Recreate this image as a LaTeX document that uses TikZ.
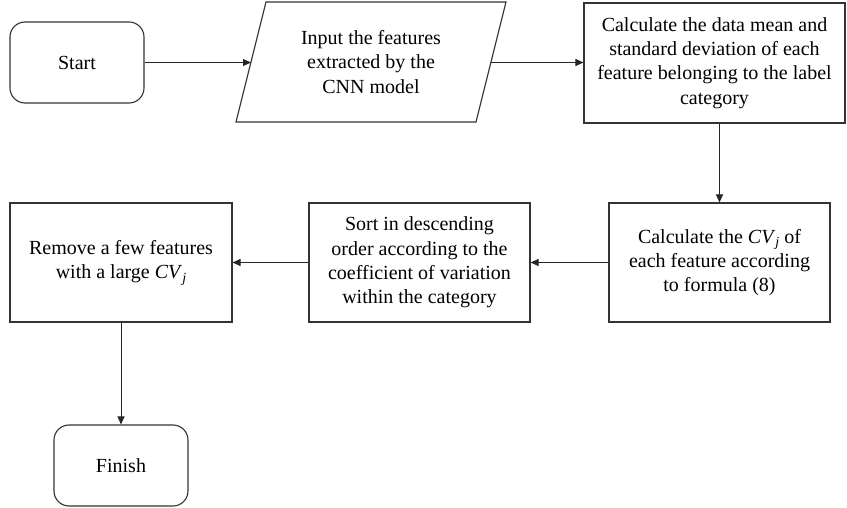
\documentclass[tikz,border=0pt]{standalone}
\usepackage{fontspec}
\setmainfont{Liberation Serif}
\usetikzlibrary{arrows.meta}
\newcommand{\cvj}{\textit{CV}\raisebox{-0.4ex}{\fontsize{14}{14}\selectfont\textit{j}}}
\tikzset{
  base/.style={draw=black!80, line width=1.1pt, align=center, font=\fontsize{20}{24.3}\selectfont, inner sep=0pt},
  boxnode/.style={base, rectangle},
  termnode/.style={base, rectangle, rounded corners=15pt},
  txt/.style={align=center, font=\fontsize{20}{24.3}\selectfont, inner sep=0pt},
  arr/.style={draw=black!85, line width=1pt, -{Triangle[length=8pt,width=7pt]}}
}
\begin{document}
\begin{tikzpicture}[x=1pt,y=-1pt]
\useasboundingbox (0,0) rectangle (847,508);
% Start
\node[termnode, minimum width=134pt, minimum height=81pt] (start) at (77,62.5) {Start};
% parallelogram
\draw[draw=black!80, line width=1.1pt] (266,2) -- (506,2) -- (476,122) -- (236,122) -- cycle;
\node[txt] (input) at (371,62) {Input the features\\extracted by the\\CNN model};
\coordinate (inL) at (251,62.5);
\coordinate (inR) at (491,62.5);
% box3
\node[boxnode, minimum width=261pt, minimum height=120pt] (calc) at (714.5,63) {Calculate the data mean and\\standard deviation of each\\feature belonging to the label\\category};
% box4
\node[boxnode, minimum width=221pt, minimum height=119pt] (cv) at (719.5,262.5) {Calculate the \cvj{} of\\each feature according\\to formula (8)};
% box5
\node[boxnode, minimum width=221pt, minimum height=119pt] (sort) at (419.5,262.5) {Sort in descending\\order according to the\\coefficient of variation\\within the category};
% box6
\node[boxnode, minimum width=222pt, minimum height=119pt] (remove) at (121,262.5) {Remove a few features\\with a large \cvj};
% finish
\node[termnode, minimum width=134pt, minimum height=81pt] (finish) at (121,465.5) {Finish};
% connectors
\draw[arr] (start.east) -- (inL);
\draw[arr] (inR) -- (calc.west |- inR);
\draw[arr] (cv.north |- calc.south) -- (cv.north);
\draw[arr] (cv.west) -- (sort.east);
\draw[arr] (sort.west) -- (remove.east);
\draw[arr] (remove.south) -- (finish.north);
\end{tikzpicture}
\end{document}
